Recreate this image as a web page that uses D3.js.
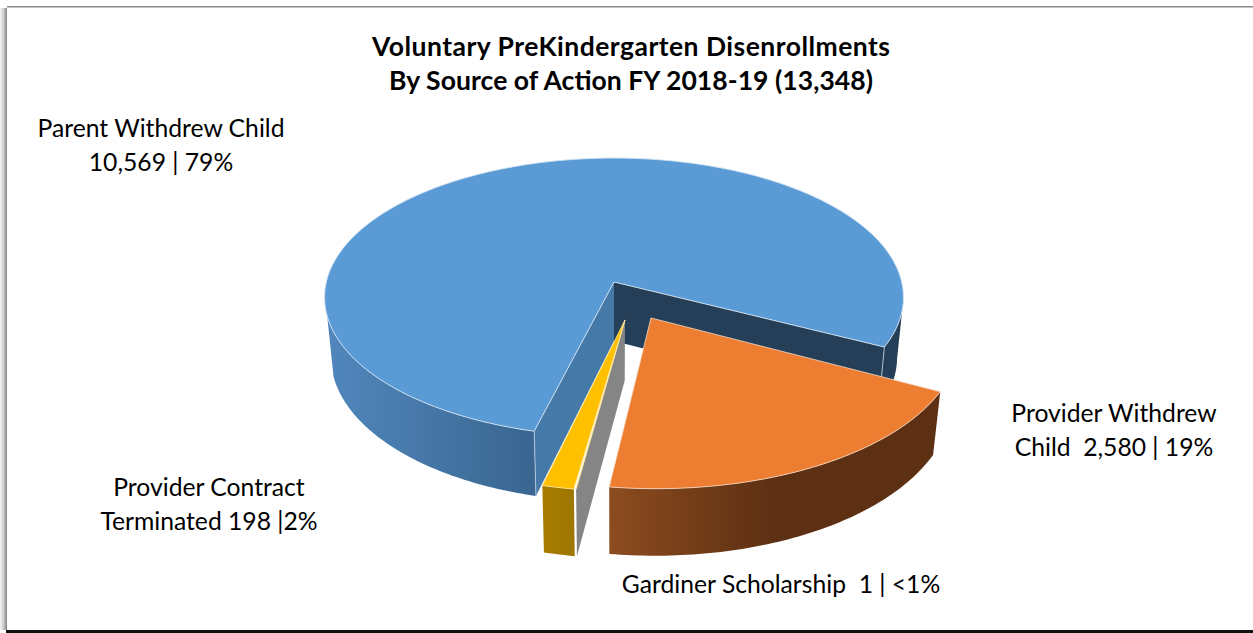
<!DOCTYPE html>
<html>
<head>
<meta charset="utf-8">
<script src="https://cdn.jsdelivr.net/npm/d3@7"></script>
<style>
  html, body { margin: 0; padding: 0; background: #fff; }
  svg { display: block; }
  text { font-family: Lato, "Open Sans", sans-serif; fill: #000; }
</style>
</head>
<body>
<div id="chart"></div>
<script>
const categories = ["Parent Withdrew Child", "Provider Withdrew Child", "Gardiner Scholarship", "Provider Contract Terminated"];
const values = [10569, 2580, 1, 198];
const titleLines = ["Voluntary PreKindergarten Disenrollments", "By Source of Action FY 2018-19 (13,348)"];

const width = 1253, height = 633;

const svg = d3.select("#chart").append("svg")
  .attr("width", width)
  .attr("height", height);

// ---------------- projection of the tilted pie ---------------- //
const cx = 614, cy = 282, rx = 287.7, ry = 137.6, persp = 0.11;
const depthX = 0.978, depthY = 1.039, bottomY = 341;
const deg = Math.PI / 180;

function project(u, v) {
  const w = 1 - persp * v;
  return [cx + rx * u / w, cy + ry * v / w];
}
// s is one drawn slice: its offset from the centre and its radius
function topPt(a, s) {
  return project(s.radius * Math.sin(a) + s.off[0], -s.radius * Math.cos(a) + s.off[1]);
}
function apexTop(s) {
  return project(s.off[0], s.off[1]);
}
function toBottom(p) {
  return [cx + depthX * (p[0] - cx), bottomY + depthY * (p[1] - cy)];
}
function arcPts(a0, a1) {
  const n = Math.max(2, Math.ceil(Math.abs(a1 - a0) * 60));
  return d3.range(n + 1).map(i => a0 + (a1 - a0) * i / n);
}
const line = d3.line();

const pie = d3.pie().sort(null).startAngle(193 * deg).endAngle((193 + 360) * deg);

// how far each slice is pulled out, plus the small turn and trim the 3D view gives it
const explode = [[0, 0], [0.125, 0.254], [0.037, 0.268], [0.037, 0.268]];
const radius = [1, 1.035, 1.035, 1.035];
const turn = [0, -0.2, 0.7, 1.05];
const trim = [1.35, -0.3, 0, 0];
const topColor = ["#5b9bd5", "#ed7d31", "#a5a5a5", "#ffc000"];
const edgeColor = ["#d5e4f3", "#f8dcc8", "#ffe9a0", "#ffe9a0"];

const slices = pie(values).map((d, i) => ({
  a0: d.startAngle + (turn[i] + trim[i]) * deg,
  a1: d.endAngle + (turn[i] - trim[i]) * deg,
  off: explode[i],
  radius: radius[i],
  top: topColor[i],
  edge: edgeColor[i]
}));

// ---------------- gradients ---------------- //
const defs = svg.append("defs");
function gradient(id, x1, x2, stops) {
  const g = defs.append("linearGradient").attr("id", id)
    .attr("gradientUnits", "userSpaceOnUse")
    .attr("x1", x1).attr("x2", x2).attr("y1", 0).attr("y2", 0);
  stops.forEach(s => g.append("stop").attr("offset", s[0]).attr("stop-color", s[1]));
}
gradient("rimBlue", 326, 537, [[0, "#5187bd"], [1, "#39658f"]]);
gradient("rimOrange", 609, 770, [[0, "#8c4c1f"], [1, "#5e3013"]]);
gradient("rimYellow", 541, 577, [[0, "#a87e00"], [1, "#9c7500"]]);
gradient("shadowLeft", 0, 7, [[0, "#f4f4f4"], [0.5, "#cfcfcf"], [1, "#808080"]]);

// ---------------- helpers ---------------- //
function wall(a, s) {
  const t0 = apexTop(s), t1 = topPt(a, s);
  return [t0, t1, toBottom(t1), toBottom(t0)];
}
function rim(a0, a1, s) {
  const t = arcPts(a0, a1).map(a => topPt(a, s));
  return t.concat(t.map(toBottom).reverse());
}
function topFace(s) {
  return [apexTop(s)].concat(arcPts(s.a0, s.a1).map(a => topPt(a, s)));
}
function poly(points, fill, stroke) {
  return svg.append("path")
    .attr("d", line(points) + "Z")
    .attr("fill", fill)
    .attr("stroke", stroke || "none")
    .attr("stroke-width", stroke ? 0.8 : 0)
    .attr("stroke-linejoin", "round");
}
function edge(points, color) {
  svg.append("path").attr("d", line(points)).attr("fill", "none")
    .attr("stroke", color).attr("stroke-width", 0.9);
}

// ---------------- frame ---------------- //
svg.append("rect").attr("x", 0).attr("y", 8).attr("width", 7).attr("height", 622).attr("fill", "url(#shadowLeft)");
svg.append("rect").attr("x", 7).attr("y", 6).attr("width", width - 7).attr("height", 1.5).attr("fill", "#8a8a8a");
svg.append("rect").attr("x", 6).attr("y", 630).attr("width", width - 6).attr("height", 3).attr("fill", "#111");

// ---------------- slices, back to front ---------------- //
const blue = slices[0], orange = slices[1], gard = slices[2], yellow = slices[3];

// blue: end wall and far rim
poly(rim(blue.a1 - 2 * Math.PI, 97 * deg, blue), "#243f57");
poly(wall(blue.a1, blue), "#243f57");
edge([topPt(blue.a1, blue), toBottom(topPt(blue.a1, blue))], "#b9c7d4");
// blue: start wall and near rim
poly(wall(blue.a0, blue), "#4579a8");
poly(rim(blue.a0, 256 * deg, blue), "url(#rimBlue)");
edge([topPt(blue.a0, blue), toBottom(topPt(blue.a0, blue))], "#b9cfe3");
poly(topFace(blue), blue.top);
edge(topFace(blue).concat([apexTop(blue)]), blue.edge);

// orange
poly(rim(orange.a0, orange.a1, orange), "url(#rimOrange)");
poly(topFace(orange), orange.top, orange.edge);

// gardiner wall then yellow
poly(wall(gard.a0, gard), "#858585");
poly(topFace(gard), gard.top, gard.edge);
poly(rim(yellow.a0, yellow.a1, yellow), "url(#rimYellow)");
poly(topFace(yellow), yellow.top, yellow.edge);

// ---------------- title and labels ---------------- //
const titleLength = [518, 484];
svg.append("g").selectAll("text").data(titleLines).enter().append("text")
  .attr("x", 631).attr("y", (d, i) => 56 + i * 34)
  .attr("text-anchor", "middle")
  .attr("font-size", 26.5).attr("font-weight", 700)
  .attr("textLength", (d, i) => titleLength[i])
  .text(d => d);

const labelLines = [
  ["Parent Withdrew Child", "10,569 | 79%"],
  ["Provider Withdrew", "Child  2,580 | 19%"],
  ["Gardiner Scholarship  1 | <1%"],
  ["Provider Contract", "Terminated 198 |2%"]
];
const labelAt = [[161, 137], [1114, 422], [781, 593], [209, 496]];
labelLines.forEach((lines, k) => {
  lines.forEach((t, i) => {
    svg.append("text")
      .attr("x", labelAt[k][0]).attr("y", labelAt[k][1] + i * 34)
      .attr("text-anchor", "middle")
      .attr("font-size", 24.7)
      .attr("xml:space", "preserve")
      .text(t);
  });
});
</script>
</body>
</html>
